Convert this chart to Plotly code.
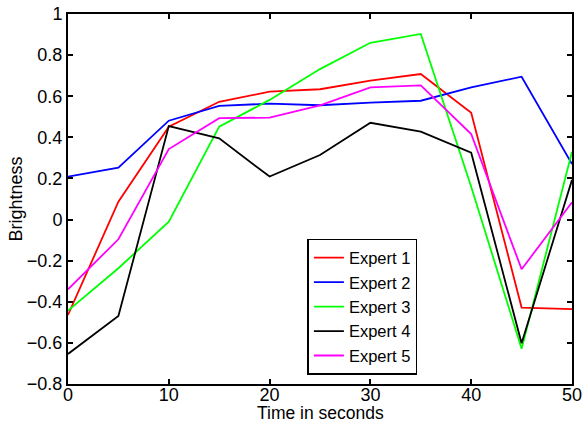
import plotly.graph_objects as go

# Time samples (seconds)
time_s = [0, 5, 10, 15, 20, 25, 30, 35, 40, 45, 50]

# Brightness ratings per expert
expert_1 = [-0.464, 0.087, 0.452, 0.573, 0.622, 0.634, 0.676, 0.708, 0.520, -0.428, -0.436]
expert_2 = [0.209, 0.252, 0.481, 0.553, 0.564, 0.556, 0.569, 0.578, 0.643, 0.695, 0.270]
expert_3 = [-0.443, -0.237, -0.010, 0.452, 0.582, 0.732, 0.860, 0.903, 0.160, -0.629, 0.330]
expert_4 = [-0.654, -0.469, 0.455, 0.395, 0.209, 0.314, 0.471, 0.428, 0.325, -0.602, 0.193]
expert_5 = [-0.339, -0.096, 0.343, 0.493, 0.496, 0.556, 0.643, 0.653, 0.416, -0.242, 0.084]

series_names = ["Expert 1", "Expert 2", "Expert 3", "Expert 4", "Expert 5"]
series_values = [expert_1, expert_2, expert_3, expert_4, expert_5]
series_colors = ["#FF0000", "#0000FF", "#00FF00", "#000000", "#FF00FF"]

x_ticks = [0, 10, 20, 30, 40, 50]
y_ticks = [-0.8, -0.6, -0.4, -0.2, 0, 0.2, 0.4, 0.6, 0.8, 1]

FONT = "Liberation Sans, Arial, Helvetica, sans-serif"

fig = go.Figure()
for name, vals, col in zip(series_names, series_values, series_colors):
    fig.add_trace(go.Scatter(
        x=time_s, y=vals, mode="lines", name=name,
        line=dict(color=col, width=1.8),
    ))

axis_common = dict(
    automargin=False,
    showline=True, linecolor="black", linewidth=2, mirror="ticks",
    ticks="inside", ticklen=5, tickwidth=1.5, tickcolor="black",
    showgrid=False, zeroline=False,
    tickfont=dict(family=FONT, size=18, color="black"),
)

fig.update_layout(
    template="none",
    width=584, height=423,
    margin=dict(l=68, r=12, t=14, b=39),
    paper_bgcolor="white", plot_bgcolor="white",
    font=dict(family=FONT, size=18, color="black"),
    xaxis=dict(
        range=[0, 50], tickvals=x_ticks, ticklabelstandoff=-7,
        **axis_common,
    ),
    yaxis=dict(
        range=[-0.8, 1], tickvals=y_ticks,
        title=dict(text="Brightness", font=dict(family=FONT, size=18), standoff=0),
        **axis_common,
    ),
    legend=dict(
        x=0.475, y=0.392, xanchor="left", yanchor="top",
        bgcolor="white", bordercolor="black", borderwidth=1.5,
        font=dict(family=FONT, size=16.5, color="black"),
        itemwidth=30, tracegroupgap=0,
    ),
    showlegend=True,
)

# x-axis title placed just under the tick labels
fig.add_annotation(
    text="Time in seconds", xref="paper", yref="paper",
    x=0.5, y=0, xanchor="center", yanchor="middle", yshift=-29,
    borderpad=0, showarrow=False,
    font=dict(family=FONT, size=17.5, color="black"),
)

fig.write_html("out.html")
